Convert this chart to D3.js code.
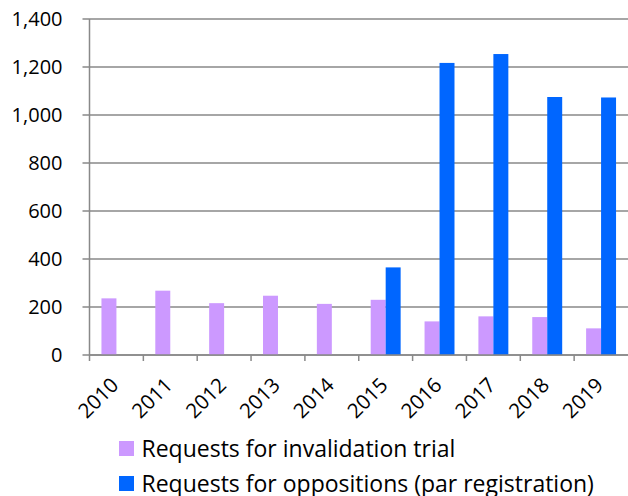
<!DOCTYPE html>
<html>
<head>
<meta charset="utf-8">
<script src="https://cdn.jsdelivr.net/npm/d3@7"></script>
<style>
  body { margin: 0; background: #fff; }
  svg { display: block; font-family: "Open Sans", sans-serif; }
</style>
</head>
<body>
<div id="chart"></div>
<script>
// 資料
const years = ["2010", "2011", "2012", "2013", "2014", "2015", "2016", "2017", "2018", "2019"];
const invalidation = [236, 268, 216, 247, 213, 230, 140, 161, 158, 111];
const oppositions = [0, 0, 0, 0, 0, 365, 1217, 1254, 1075, 1073];
const seriesNames = ["Requests for invalidation trial", "Requests for oppositions (par registration)"];
const seriesColors = ["#cc99ff", "#0066ff"];
const yTicks = [0, 200, 400, 600, 800, 1000, 1200, 1400];

const width = 628;
const height = 496;
const margin = { top: 19, right: 0, bottom: 141, left: 89.5 };
const plotW = width - margin.left - margin.right;
const plotH = height - margin.top - margin.bottom;

const svg = d3.select("#chart")
  .append("svg")
  .attr("width", width)
  .attr("height", height);

const g = svg.append("g")
  .attr("transform", `translate(${margin.left},${margin.top})`);

const x = d3.scaleBand().domain(years).range([0, plotW]).padding(0);
const y = d3.scaleLinear().domain([0, 1400]).range([plotH, 0]);
const inner = d3.scaleBand()
  .domain([0, 1])
  .range([x.bandwidth() * 0.222, x.bandwidth() * 0.778]);

// 格線
g.selectAll(".grid")
  .data(yTicks)
  .join("line")
  .attr("class", "grid")
  .attr("x1", -7)
  .attr("x2", plotW)
  .attr("y1", d => y(d))
  .attr("y2", d => y(d))
  .style("stroke", "#898989")
  .style("stroke-width", 1.5);

// y 軸
g.append("line")
  .attr("x1", 0).attr("x2", 0)
  .attr("y1", 0).attr("y2", plotH + 6)
  .style("stroke", "#898989")
  .style("stroke-width", 1.5);

g.selectAll(".ylabel")
  .data(yTicks)
  .join("text")
  .attr("class", "ylabel")
  .attr("x", -27)
  .attr("y", d => y(d))
  .attr("dy", "0.36em")
  .attr("text-anchor", "end")
  .style("font-size", "20px")
  .style("fill", "#000")
  .text(d => d3.format(",")(d));

// 長條
const data = years.map((yr, i) => ({ year: yr, values: [invalidation[i], oppositions[i]] }));

const groups = g.selectAll(".year")
  .data(data)
  .join("g")
  .attr("class", "year")
  .attr("transform", d => `translate(${x(d.year)},0)`);

groups.selectAll("rect")
  .data(d => d.values.map((v, k) => ({ k, v })))
  .join("rect")
  .attr("x", d => inner(d.k))
  .attr("width", inner.bandwidth())
  .attr("y", d => y(d.v))
  .attr("height", d => plotH - y(d.v))
  .style("fill", d => seriesColors[d.k]);

// x 軸
g.append("line")
  .attr("x1", 0).attr("x2", plotW)
  .attr("y1", plotH).attr("y2", plotH)
  .style("stroke", "#898989")
  .style("stroke-width", 1.5);

g.selectAll(".xtick")
  .data(years.slice(1))
  .join("line")
  .attr("class", "xtick")
  .attr("x1", d => x(d)).attr("x2", d => x(d))
  .attr("y1", plotH).attr("y2", plotH + 6)
  .style("stroke", "#898989")
  .style("stroke-width", 1.5);

g.selectAll(".xlabel")
  .data(years)
  .join("text")
  .attr("class", "xlabel")
  .attr("text-anchor", "end")
  .attr("transform", d => `translate(${x(d) + x.bandwidth() / 2 - 7},${plotH + 21}) rotate(-45)`)
  .attr("dy", "0.72em")
  .style("font-size", "20.5px")
  .style("fill", "#000")
  .text(d => d);

// 圖例
const legend = svg.selectAll(".legend")
  .data(seriesNames)
  .join("g")
  .attr("class", "legend")
  .attr("transform", (d, i) => `translate(119,${441 + i * 35})`);

legend.append("rect")
  .attr("width", 15)
  .attr("height", 15)
  .style("fill", (d, i) => seriesColors[i]);

legend.append("text")
  .attr("x", 22.5)
  .attr("y", 15.5)
  .style("font-size", "23px")
  .style("fill", "#000")
  .text(d => d);
</script>
</body>
</html>
